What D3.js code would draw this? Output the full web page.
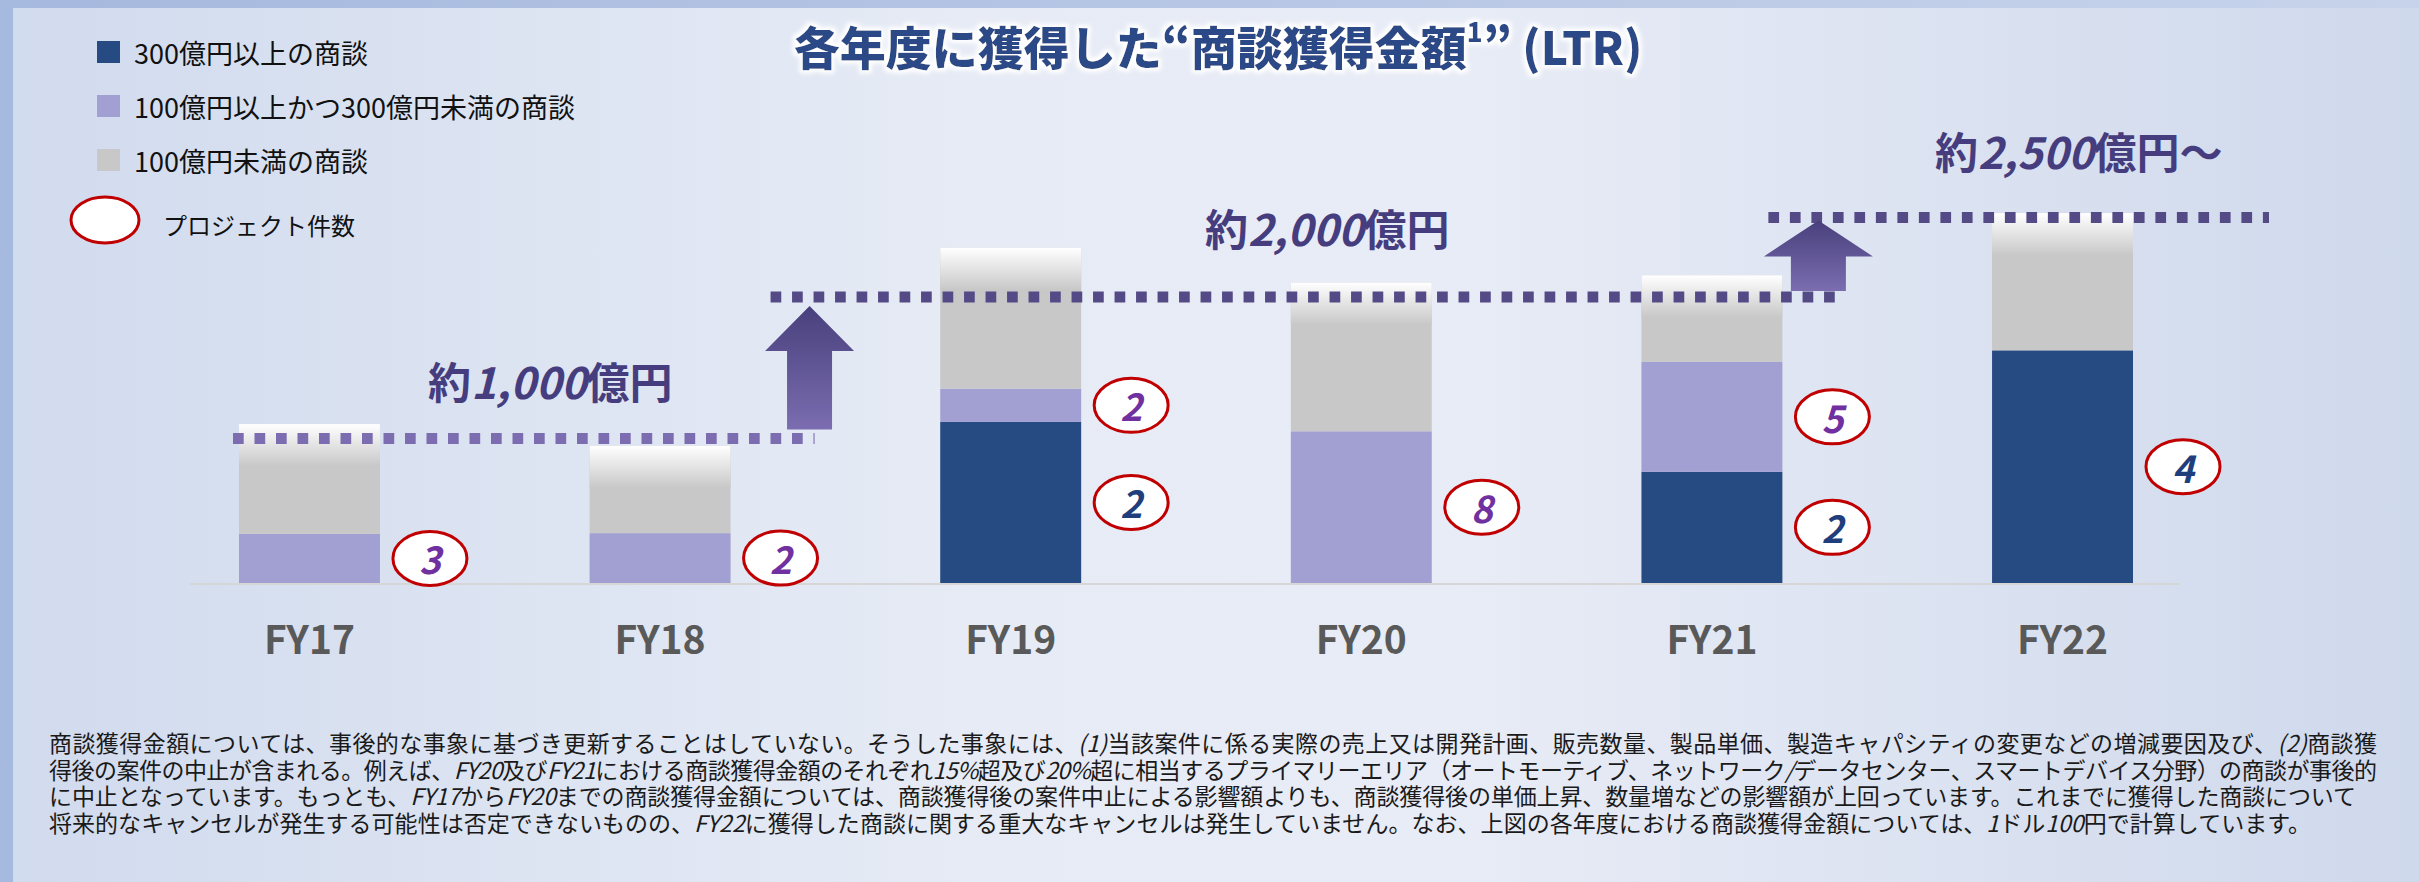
<!DOCTYPE html>
<html lang="ja">
<head>
<meta charset="UTF-8">
<title>商談獲得金額 (LTR)</title>
<script src="https://d3js.org/d3.v7.min.js"></script>
<style>
  body { margin: 0; padding: 0; overflow: hidden; }
  svg { display: block; }
  text { font-family: "Noto Sans CJK JP", "Noto Sans", sans-serif; }
</style>
</head>
<body>
<div id="chart"></div>
<script>
// ---- data (values in 億円) ----
var years = ["FY17", "FY18", "FY19", "FY20", "FY21", "FY22"];
var over300 = [0, 0, 1115, 0, 770, 1610];          // 300億円以上の商談
var from100to300 = [340, 345, 230, 1050, 760, 0];   // 100億円以上かつ300億円未満の商談
var under100 = [760, 605, 975, 1030, 600, 950];     // 100億円未満の商談
var countsOver300 = [null, null, 2, null, 2, 4];    // プロジェクト件数 (navy part)
var countsMid = [3, 2, 2, 8, 5, null];              // プロジェクト件数 (lavender part)

var legendLabels = ["300億円以上の商談", "100億円以上かつ300億円未満の商談", "100億円未満の商談"];
var countLegendLabel = "プロジェクト件数";

var levelValues = [1000, 1980, 2530];
var levelLabels = [["約", "1,000", "億円"], ["約", "2,000", "億円"], ["約", "2,500", "億円～"]];

var noteLines = [
  "商談獲得金額については、事後的な事象に基づき更新することはしていない。そうした事象には、*(1)*当該案件に係る実際の売上又は開発計画、販売数量、製品単価、製造キャパシティの変更などの増減要因及び、*(2)*商談獲",
  "得後の案件の中止が含まれる。例えば、*FY20*及び*FY21*における商談獲得金額のそれぞれ*15%*超及び*20%*超に相当するプライマリーエリア（オートモーティブ、ネットワーク*/*データセンター、スマートデバイス分野）の商談が事後的",
  "に中止となっています。もっとも、*FY17*から*FY20*までの商談獲得金額については、商談獲得後の案件中止による影響額よりも、商談獲得後の単価上昇、数量増などの影響額が上回っています。これまでに獲得した商談について",
  "将来的なキャンセルが発生する可能性は否定できないものの、*FY22*に獲得した商談に関する重大なキャンセルは発生していません。なお、上図の各年度における商談獲得金額については、*1*ドル*100*円で計算しています。"
];
var noteWidths = [2328, 2328, 2307, 2262];

// ---- colours ----
var navy = "#264a82", lavender = "#a29fd3", grey = "#c8c8c8";
var segColors = [navy, lavender, grey];

var W = 2419, H = 882;
var svg = d3.select("#chart").append("svg").attr("width", W).attr("height", H);
var defs = svg.append("defs");

// background gradient
var bg = defs.append("linearGradient").attr("id", "bg").attr("x1", 0).attr("x2", 1).attr("y1", 0).attr("y2", 0);
bg.append("stop").attr("offset", "0%").attr("stop-color", "#d1dbee");
bg.append("stop").attr("offset", "40%").attr("stop-color", "#e6ebf5");
bg.append("stop").attr("offset", "60%").attr("stop-color", "#e8ecf6");
bg.append("stop").attr("offset", "100%").attr("stop-color", "#cfd9ec");

var topStrip = defs.append("linearGradient").attr("id", "topStrip").attr("x1", 0).attr("x2", 1);
topStrip.append("stop").attr("offset", "0%").attr("stop-color", "#a6b9de");
topStrip.append("stop").attr("offset", "100%").attr("stop-color", "#c7d3eb");

// white fade at the top of every bar
var fade = defs.append("linearGradient").attr("id", "fade").attr("x1", 0).attr("x2", 0).attr("y1", 0).attr("y2", 1);
fade.append("stop").attr("offset", "0%").attr("stop-color", "#ffffff");
fade.append("stop").attr("offset", "100%").attr("stop-color", grey);

// arrow gradient
var arrowGrad = defs.append("linearGradient").attr("id", "arrowGrad").attr("x1", 0).attr("x2", 0).attr("y1", 0).attr("y2", 1);
arrowGrad.append("stop").attr("offset", "0%").attr("stop-color", "#48407c");
arrowGrad.append("stop").attr("offset", "100%").attr("stop-color", "#7b6db0");

// soft white halo behind the title
var halo = defs.append("filter").attr("id", "halo").attr("x", "-5%").attr("y", "-30%").attr("width", "110%").attr("height", "160%");
halo.append("feMorphology").attr("in", "SourceAlpha").attr("operator", "dilate").attr("radius", 2.5).attr("result", "d");
halo.append("feGaussianBlur").attr("in", "d").attr("stdDeviation", 2).attr("result", "b");
halo.append("feFlood").attr("flood-color", "#ffffff");
halo.append("feComposite").attr("in2", "b").attr("operator", "in").attr("result", "w");
var hm = halo.append("feMerge");
hm.append("feMergeNode").attr("in", "w");
hm.append("feMergeNode").attr("in", "SourceGraphic");

svg.append("rect").attr("width", W).attr("height", H).attr("fill", "url(#bg)");
svg.append("rect").attr("width", W).attr("height", 8).attr("fill", "url(#topStrip)");
svg.append("rect").attr("width", 13).attr("height", H).attr("fill", "#a6b9de");

// ---- scales ----
var baseY = 583;
var x = d3.scaleBand().domain(years).range([239, 2133]).paddingInner(0.598).paddingOuter(0);
var y = d3.scaleLinear().domain([0, 2800]).range([baseY, baseY - 2800 * 0.1445]);
var bw = x.bandwidth();

// stack the three series
var rows = years.map(function (yr, i) {
  return { year: yr, a: over300[i], b: from100to300[i], c: under100[i] };
});
var stacked = d3.stack().keys(["a", "b", "c"])(rows);

// baseline
svg.append("line")
  .attr("x1", 190).attr("x2", 2180)
  .attr("y1", baseY + 1).attr("y2", baseY + 1)
  .attr("stroke", "#d6d6d6").attr("stroke-width", 2);

// bars
var layers = svg.selectAll("g.layer").data(stacked).enter().append("g")
  .attr("class", "layer").attr("fill", function (d, i) { return segColors[i]; });
layers.selectAll("rect").data(function (d) { return d; }).enter().append("rect")
  .attr("x", function (d) { return x(d.data.year); })
  .attr("y", function (d) { return y(d[1]); })
  .attr("width", bw)
  .attr("height", function (d) { return y(d[0]) - y(d[1]); });

// white fade on bar tops
svg.selectAll("rect.fade").data(rows).enter().append("rect")
  .attr("class", "fade")
  .attr("x", function (d) { return x(d.year); })
  .attr("y", function (d) { return y(d.a + d.b + d.c); })
  .attr("width", bw).attr("height", 42)
  .attr("fill", "url(#fade)");

// ---- level lines (dotted) ----
var levelLines = [
  { v: levelValues[0], x0: x("FY17") - 6, x1: x("FY18") + bw + 84, color: "#7b6db0" },
  { v: levelValues[1], x0: x("FY18") + bw + 40, x1: x("FY21") + bw + 62, color: "#544a86" },
  { v: levelValues[2], x0: x("FY21") + bw - 14, x1: x("FY22") + bw + 136, color: "#544a86" }
];
svg.selectAll("line.level").data(levelLines).enter().append("line")
  .attr("class", "level")
  .attr("x1", function (d) { return d.x0; }).attr("x2", function (d) { return d.x1; })
  .attr("y1", function (d) { return y(d.v); }).attr("y2", function (d) { return y(d.v); })
  .attr("stroke", function (d) { return d.color; })
  .attr("stroke-width", 11)
  .attr("stroke-dasharray", "10.7 10.8");

// ---- arrows ----
var arrows = [
  { cx: x("FY18") + bw + 79, bottom: y(levelValues[0]) - 9, top: y(levelValues[1]) + 9, headH: 45, headW: 44.5, shaftW: 22.5 },
  { cx: x("FY21") + bw + 36, bottom: y(levelValues[1]) - 6, top: y(levelValues[2]) + 3, headH: 36, headW: 54.5, shaftW: 27.5 }
];
svg.selectAll("path.arrow").data(arrows).enter().append("path")
  .attr("class", "arrow")
  .attr("fill", "url(#arrowGrad)")
  .attr("d", function (d) {
    var p = d3.path();
    p.moveTo(d.cx, d.top);
    p.lineTo(d.cx + d.headW, d.top + d.headH);
    p.lineTo(d.cx + d.shaftW, d.top + d.headH);
    p.lineTo(d.cx + d.shaftW, d.bottom);
    p.lineTo(d.cx - d.shaftW, d.bottom);
    p.lineTo(d.cx - d.shaftW, d.top + d.headH);
    p.lineTo(d.cx - d.headW, d.top + d.headH);
    p.closePath();
    return p.toString();
  });

// ---- level labels ----
var labelPos = [
  { x: 428, dy: -59 },
  { x: 1205, dy: -70 },
  { x: 1935, dy: -67 }
];
levelLabels.forEach(function (parts, i) {
  var t = svg.append("text")
    .attr("x", labelPos[i].x)
    .attr("y", y(levelValues[i]) + labelPos[i].dy)
    .attr("dominant-baseline", "central")
    .attr("font-size", 43).attr("font-weight", 700)
    .attr("fill", "#463d7e");
  t.append("tspan").text(parts[0]);
  t.append("tspan").attr("font-style", "italic").text(parts[1]);
  t.append("tspan").text(parts[2]);
});

// ---- project counts (ellipses) ----
var countMarks = [];
rows.forEach(function (d, i) {
  if (countsOver300[i] != null) countMarks.push({ year: d.year, mid: d.a / 2, n: countsOver300[i], color: "#203e7c" });
  if (countsMid[i] != null) countMarks.push({ year: d.year, mid: d.a + d.b / 2, n: countsMid[i], color: "#7030a0" });
});
var cm = svg.selectAll("g.count").data(countMarks).enter().append("g").attr("class", "count")
  .attr("transform", function (d) { return "translate(" + (x(d.year) + bw + 50) + "," + y(d.mid) + ")"; });
cm.append("ellipse").attr("rx", 37).attr("ry", 27)
  .attr("fill", "#ffffff").attr("stroke", "#c00000").attr("stroke-width", 3);
cm.append("text")
  .attr("text-anchor", "middle").attr("dominant-baseline", "central")
  .attr("font-family", "'Open Sans', sans-serif")
  .attr("font-size", 37).attr("font-weight", 700).attr("font-style", "italic")
  .attr("fill", function (d) { return d.color; })
  .text(function (d) { return d.n; });

// ---- x axis labels ----
svg.selectAll("text.year").data(years).enter().append("text")
  .attr("class", "year")
  .attr("x", function (d) { return x(d) + bw / 2; })
  .attr("y", 637)
  .attr("text-anchor", "middle").attr("dominant-baseline", "central")
  .attr("font-size", 39).attr("font-weight", 700)
  .attr("fill", "#595959")
  .text(function (d) { return d; });

// ---- title ----
var title = svg.append("text")
  .attr("x", 1218).attr("y", 45)
  .attr("text-anchor", "middle").attr("dominant-baseline", "central")
  .attr("font-size", 46).attr("font-weight", 900)
  .attr("fill", "#2a4a86")
  .attr("filter", "url(#halo)");
title.append("tspan").text("各年度に獲得した“商談獲得金額");
title.append("tspan").attr("font-size", 26).attr("dy", -15).text("1");
title.append("tspan").attr("dy", 15).text("” (LTR)");

// ---- legend ----
var legend = svg.append("g");
legendLabels.forEach(function (lab, i) {
  var ly = 52 + i * 54;
  legend.append("rect").attr("x", 97).attr("y", ly - 11).attr("width", 23).attr("height", 22)
    .attr("fill", segColors[i]);
  legend.append("text").attr("x", 134).attr("y", ly)
    .attr("dominant-baseline", "central")
    .attr("font-size", 27).attr("fill", "#111111")
    .text(lab);
});
legend.append("ellipse").attr("cx", 105).attr("cy", 220).attr("rx", 34).attr("ry", 23)
  .attr("fill", "#ffffff").attr("stroke", "#c00000").attr("stroke-width", 3);
legend.append("text").attr("x", 163).attr("y", 224)
  .attr("dominant-baseline", "central")
  .attr("font-size", 24).attr("fill", "#111111")
  .text(countLegendLabel);

// ---- footnote ----
noteLines.forEach(function (line, i) {
  var t = svg.append("text")
    .attr("x", 49).attr("y", 742 + i * 26.5)
    .attr("dominant-baseline", "central")
    .attr("font-size", 23).attr("fill", "#1a1a1a")
    .attr("textLength", noteWidths[i]).attr("lengthAdjust", "spacing");
  line.split("*").forEach(function (part, k) {
    if (part === "") return;
    t.append("tspan").attr("font-style", k % 2 === 1 ? "italic" : null).text(part);
  });
});
</script>
</body>
</html>
